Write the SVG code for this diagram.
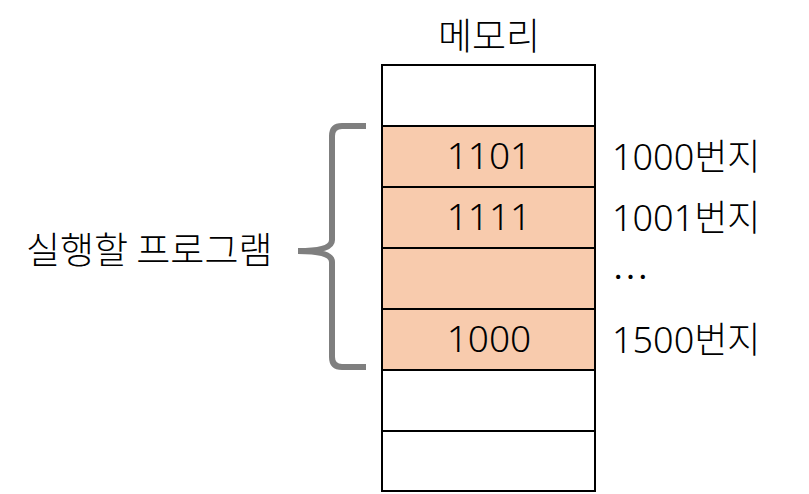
<svg xmlns="http://www.w3.org/2000/svg" width="809" height="494" viewBox="0 0 809 494">
<style>
text{font-family:"Noto Sans CJK KR","Noto Sans",sans-serif;font-size:37px;font-weight:300;fill:#000}
.n{font-family:"Noto Sans","Noto Sans CJK KR",sans-serif;font-size:37px}
.a{font-size:36px}
.c{stroke:#000;stroke-width:2}
.f{fill:#F8CBAD}
.w{fill:#fff}
.mid{text-anchor:middle}
</style>
<rect width="809" height="494" fill="#fff"/>
<text class="mid" x="489" y="50">메모리</text>
<g id="memory">
<g id="row1"><rect class="c w" x="382" y="65" width="213" height="61"/></g>
<g id="row2"><rect class="c f" x="382" y="126" width="213" height="61"/><text class="mid n" x="489" y="169">1101</text></g>
<g id="row3"><rect class="c f" x="382" y="187" width="213" height="61"/><text class="mid n" x="489" y="230">1111</text></g>
<g id="row4"><rect class="c f" x="382" y="248" width="213" height="61"/></g>
<g id="row5"><rect class="c f" x="382" y="309" width="213" height="61"/><text class="mid n" x="489" y="352">1000</text></g>
<g id="row6"><rect class="c w" x="382" y="370" width="213" height="61"/></g>
<g id="row7"><rect class="c w" x="382" y="431" width="213" height="60"/></g>
</g>
<g id="addresses">
<text class="n a" x="612" y="170">1000번지</text>
<text class="n a" x="612" y="231">1001번지</text>
<text x="612" y="291">…</text>
<text class="n a" x="612" y="353">1500번지</text>
</g>
<g id="connectors">
<path d="M366,126 L342,126 Q332,126 332,136 L332,240 Q332,251 298,251 Q332,251 332,262 L332,357 Q332,367 342,367 L366,367" fill="none" stroke="#7F7F7F" stroke-width="6"/>
</g>
<g id="label"><text x="26" y="264">실행할 프로그램</text></g>
</svg>
